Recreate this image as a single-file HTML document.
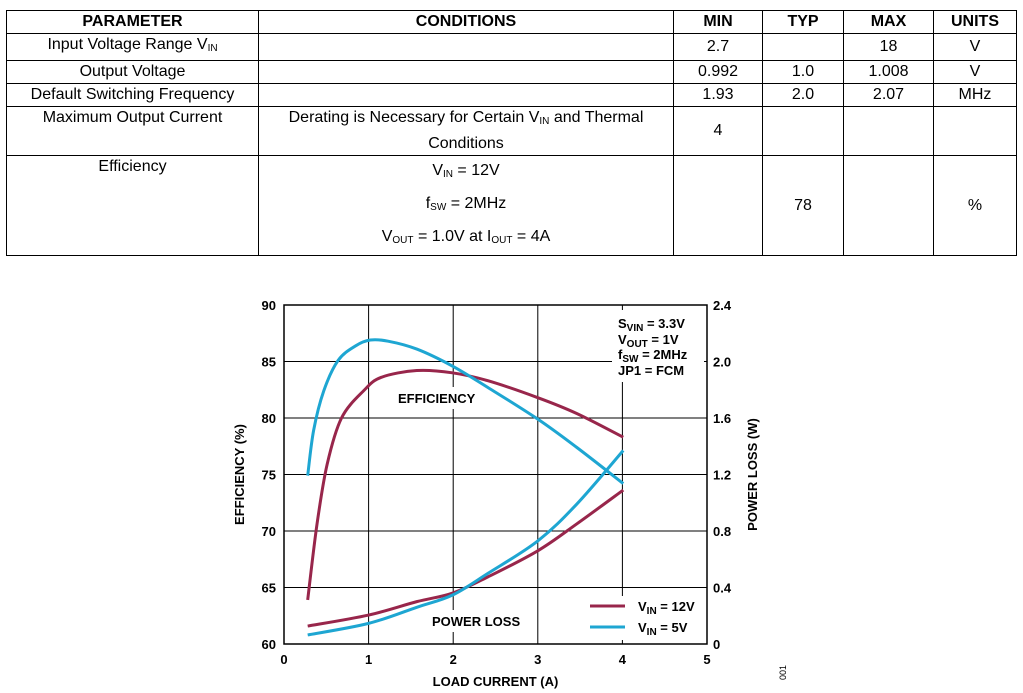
<!DOCTYPE html>
<html><head><meta charset="utf-8"><style>
body{margin:0;background:#fff;width:1023px;height:693px;overflow:hidden;font-family:"Liberation Sans",Arial,sans-serif;}
table{position:absolute;left:6px;top:10px;border-collapse:collapse;font-size:16px;}
td,th{border:1px solid #000;padding:0;text-align:center;line-height:22px;}
th{font-weight:bold;height:22px;}
sub{font-size:10px;vertical-align:-2px;}
</style></head><body>
<table>
<tr style="height:23px"><th style="width:251px">PARAMETER</th><th style="width:414px">CONDITIONS</th><th style="width:88px">MIN</th><th style="width:80px">TYP</th><th style="width:89px">MAX</th><th style="width:82px">UNITS</th></tr>
<tr style="height:23px"><td>Input Voltage Range V<sub>IN</sub></td><td></td><td>2.7</td><td></td><td>18</td><td>V</td></tr>
<tr style="height:23px"><td>Output Voltage</td><td></td><td>0.992</td><td>1.0</td><td>1.008</td><td>V</td></tr>
<tr style="height:23px"><td>Default Switching Frequency</td><td></td><td>1.93</td><td>2.0</td><td>2.07</td><td>MHz</td></tr>
<tr style="height:45px"><td style="vertical-align:top">Maximum Output Current</td><td>Derating is Necessary for Certain V<sub>IN</sub> and Thermal Conditions</td><td>4</td><td></td><td></td><td></td></tr>
<tr style="height:83px"><td style="vertical-align:top">Efficiency</td><td style="line-height:29px">V<sub>IN</sub> = 12V<br>f<sub>SW</sub> = 2MHz<br>V<sub>OUT</sub> = 1.0V at I<sub>OUT</sub> = 4A</td><td></td><td>78</td><td></td><td>%</td></tr>
</table>
<svg id="chart" width="1023" height="693" style="position:absolute;left:0;top:0" font-family="Liberation Sans, Arial, sans-serif" font-weight="bold" font-size="13"></svg>
<script>
const xTicks=[0,1,2,3,4,5];
const effTicks=[60,65,70,75,80,85,90];
const plTicks=["0","0.4","0.8","1.2","1.6","2.0","2.4"];
const effX12=[0.28,0.39,0.51,0.68,0.94,1.15,1.57,1.99,2.41,3.0,3.46,4.01];
const eff12=[63.9,70.6,75.9,80,82.4,83.6,84.2,84.0,83.3,81.8,80.4,78.3];
const effX5=[0.28,0.35,0.47,0.64,0.85,1.02,1.23,1.57,1.99,2.41,3.0,3.46,4.01];
const eff5=[74.9,78.9,82.4,85.1,86.4,86.9,86.8,86.1,84.6,82.7,79.9,77.4,74.2];
const plX=[0.28,1.0,1.57,1.99,2.41,3.0,3.46,4.01];
const pl12=[0.127,0.205,0.30,0.36,0.475,0.66,0.85,1.09];
const pl5=[0.064,0.146,0.26,0.346,0.5,0.73,0.99,1.37];
const L=284,R=707,T=305,B=644;
const sx=v=>L+(v-0)/5*(R-L);
const sy=v=>B-(v-60)/30*(B-T);
const sp=v=>B-v/2.4*(B-T);
const svg=document.getElementById('chart');
const NS='http://www.w3.org/2000/svg';
function mk(t,a,txt){const e=document.createElementNS(NS,t);for(const k in a)e.setAttribute(k,a[k]);if(txt!=null)e.textContent=txt;svg.appendChild(e);return e;}
let e;
e=mk('rect',{x:L,y:T,width:R-L,height:B-T,fill:'none',stroke:'#000','stroke-width':1.5});

xTicks.forEach(v=>{
 if(v>0&&v<5){e=mk('line',{x1:sx(v),x2:sx(v),y1:T,y2:B,stroke:'#000','stroke-width':1});
 }
 e=mk('text',{x:sx(v),y:B+20,'text-anchor':'middle'},v);
 
});
effTicks.forEach((v,i)=>{
 if(v>60&&v<90){e=mk('line',{x1:L,x2:R,y1:sy(v),y2:sy(v),stroke:'#000','stroke-width':1});
 }
 e=mk('text',{x:L-8,y:sy(v)+5,'text-anchor':'end'},v);
 
 e=mk('text',{x:R+6,y:sy(v)+5,'text-anchor':'start'},plTicks[i]);
 
});
// white gaps behind labels
[[612,310,92,72],[395,387,95,22],[425,610,110,22],[585,596,118,44]].forEach(r=>{mk('rect',{x:r[0],y:r[1],width:r[2],height:r[3],fill:'#fff'});});
function path(xs,ys,fy,color,name){
 const p=xs.map((x,i)=>[sx(x),fy(ys[i])]);
 let d='M'+p[0][0]+','+p[0][1];
 for(let i=0;i<p.length-1;i++){const p0=p[i-1]||p[i],p1=p[i],p2=p[i+1],p3=p[i+2]||p2;
  d+=' C'+(p1[0]+(p2[0]-p0[0])/6)+','+(p1[1]+(p2[1]-p0[1])/6)+' '+(p2[0]-(p3[0]-p1[0])/6)+','+(p2[1]-(p3[1]-p1[1])/6)+' '+p2[0]+','+p2[1];}
 const el=mk('path',{d:d,fill:'none',stroke:color,'stroke-width':3});
 
 
}
const RED='#98264b',BLUE='#1ea6d2';
path(effX12,eff12,sy,RED,'efficiency-12v-line');
path(effX5,eff5,sy,BLUE,'efficiency-5v-line');
path(plX,pl12,sp,RED,'power-loss-12v-line');
path(plX,pl5,sp,BLUE,'power-loss-5v-line');
e=mk('text',{x:398,y:403},'EFFICIENCY');
e=mk('text',{x:432,y:626},'POWER LOSS');
const ann=[['S','VIN',' = 3.3V',328],['V','OUT',' = 1V',344],['f','SW',' = 2MHz',359],['JP1 = FCM','','',375]];
ann.forEach(a=>{e=mk('text',{x:618,y:a[3]});e.innerHTML=a[0]+(a[1]?'<tspan dy="3" font-size="10">'+a[1]+'</tspan><tspan dy="-3">'+a[2]+'</tspan>':'');
 });
[[RED,'12V',606],[BLUE,'5V',627]].forEach(l=>{
 e=mk('line',{x1:590,x2:625,y1:l[2],y2:l[2],stroke:l[0],'stroke-width':3});
 e=mk('text',{x:638,y:l[2]+5});e.innerHTML='V<tspan dy="3" font-size="10">IN</tspan><tspan dy="-3"> = '+l[1]+'</tspan>';
 
});
e=mk('text',{x:(L+R)/2,y:686,'text-anchor':'middle'},'LOAD CURRENT (A)');
e=mk('text',{x:244,y:(T+B)/2,'text-anchor':'middle',transform:'rotate(-90 244 '+((T+B)/2)+')'},'EFFICIENCY (%)');
e=mk('text',{x:757,y:(T+B)/2,'text-anchor':'middle',transform:'rotate(-90 757 '+((T+B)/2)+')'},'POWER LOSS (W)');
e=mk('text',{x:786,y:680,'font-size':9,'font-weight':'normal',transform:'rotate(-90 786 680)'},'001');
</script>
</body></html>
